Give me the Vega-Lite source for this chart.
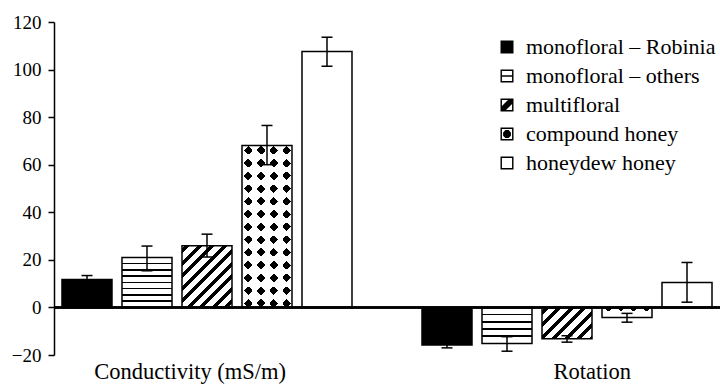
{
  "$schema": "https://vega.github.io/schema/vega-lite/v6.json",
  "width": 666,
  "height": 333,
  "autosize": {"type": "none"},
  "padding": {"left": 54, "top": 22, "right": 0, "bottom": 30},
  "background": "white",
  "config": {"view": {"stroke": null}, "font": "Liberation Serif"},
  "data": {
    "values": [
      {"group": "Conductivity (mS/m)", "type": "monofloral – Robinia", "value": 11.7, "lo": 10.0, "hi": 13.4},
      {"group": "Conductivity (mS/m)", "type": "monofloral – others", "value": 21.0, "lo": 15.4, "hi": 25.8},
      {"group": "Conductivity (mS/m)", "type": "multifloral", "value": 25.9, "lo": 21.2, "hi": 30.8},
      {"group": "Conductivity (mS/m)", "type": "compound honey", "value": 68.1, "lo": 60.0, "hi": 76.5},
      {"group": "Conductivity (mS/m)", "type": "honeydew honey", "value": 107.6, "lo": 101.4, "hi": 113.6},
      {"group": "Rotation", "type": "monofloral – Robinia", "value": -15.8, "lo": -17.0, "hi": -14.6},
      {"group": "Rotation", "type": "monofloral – others", "value": -15.2, "lo": -18.4, "hi": -12.3},
      {"group": "Rotation", "type": "multifloral", "value": -13.2, "lo": -14.6, "hi": -11.9},
      {"group": "Rotation", "type": "compound honey", "value": -4.2, "lo": -6.2, "hi": -2.5},
      {"group": "Rotation", "type": "honeydew honey", "value": 10.5, "lo": 2.2, "hi": 18.9}
    ]
  },
  "layer": [
    {
      "encoding": {
        "x": {"field": "group", "type": "nominal", "sort": ["Conductivity (mS/m)", "Rotation"],
          "scale": {"paddingInner": 0.16667, "paddingOuter": 0.00833},
          "axis": {"title": null, "domain": false, "ticks": false, "labelAngle": 0, "labelFontSize": 22.5, "labelColor": "black", "labelFont": "Liberation Serif", "labelPadding": 5, "labelLimit": 400,
            "labelExpr": "datum.value === 'Rotation' ? '\u200b\u00a0\u00a0\u00a0\u00a0\u00a0\u00a0\u00a0\u00a0\u00a0' + datum.label : datum.label + '\u00a0\u00a0\u00a0\u00a0\u00a0\u00a0\u200b'"}},
        "xOffset": {"field": "type", "type": "nominal", "sort": ["monofloral – Robinia", "monofloral – others", "multifloral", "compound honey", "honeydew honey"],
          "scale": {"paddingInner": 0.16667, "paddingOuter": 0.08333}},
        "y": {"field": "value", "type": "quantitative", "scale": {"domain": [-20, 120], "nice": false, "zero": false},
          "axis": {"title": null, "grid": false, "values": [-20, 0, 20, 40, 60, 80, 100, 120], "domainColor": "black", "domainWidth": 1.5, "tickColor": "black", "tickWidth": 1.5, "tickSize": 6, "labelFontSize": 19, "labelColor": "black", "labelFont": "Liberation Serif", "labelPadding": 7}}
      },
      "layer": [
        {
          "mark": {"type": "bar", "strokeWidth": 0},
          "encoding": {
            "fill": {
              "field": "type", "type": "nominal",
              "scale": {"domain": ["monofloral – Robinia", "monofloral – others", "multifloral", "compound honey", "honeydew honey"], "range": ["black", "black", "black", "black", "black"]},
              "legend": {"title": null, "orient": "none", "legendX": 442, "legendY": 14, "symbolSize": 169, "labelFontSize": 22, "labelColor": "black", "labelFont": "Liberation Serif", "labelLimit": 300, "labelOffset": 8, "rowPadding": 7, "padding": 0, "symbolStrokeWidth": 0, "symbolOpacity": 1},
              "condition": [
                {"test": "datum.type === 'compound honey'", "value": "black"},
                {"test": "datum.type === 'honeydew honey'", "value": "white"},
                {"test": "datum.type === 'monofloral – others' && datum.group === 'Rotation'", "value": {"gradient": "linear", "x1": 0, "y1": 0, "x2": 0, "y2": 1, "stops": [
                  {"offset": 0, "color": "white"},
                  {"offset": 0.178, "color": "white"}, {"offset": 0.178, "color": "black"}, {"offset": 0.22, "color": "black"}, {"offset": 0.22, "color": "white"},
                  {"offset": 0.377, "color": "white"}, {"offset": 0.377, "color": "black"}, {"offset": 0.419, "color": "black"}, {"offset": 0.419, "color": "white"},
                  {"offset": 0.576, "color": "white"}, {"offset": 0.576, "color": "black"}, {"offset": 0.618, "color": "black"}, {"offset": 0.618, "color": "white"},
                  {"offset": 0.775, "color": "white"}, {"offset": 0.775, "color": "black"}, {"offset": 0.817, "color": "black"}, {"offset": 0.817, "color": "white"},
                  {"offset": 1, "color": "white"}]}},
                {"test": "datum.type === 'monofloral – others'", "value": {"gradient": "linear", "x1": 0, "y1": 0, "x2": 0, "y2": 1, "stops": [
                  {"offset": 0, "color": "white"},
                  {"offset": 0.11, "color": "white"}, {"offset": 0.11, "color": "black"}, {"offset": 0.14, "color": "black"}, {"offset": 0.14, "color": "white"},
                  {"offset": 0.235, "color": "white"}, {"offset": 0.235, "color": "black"}, {"offset": 0.265, "color": "black"}, {"offset": 0.265, "color": "white"},
                  {"offset": 0.36, "color": "white"}, {"offset": 0.36, "color": "black"}, {"offset": 0.39, "color": "black"}, {"offset": 0.39, "color": "white"},
                  {"offset": 0.485, "color": "white"}, {"offset": 0.485, "color": "black"}, {"offset": 0.515, "color": "black"}, {"offset": 0.515, "color": "white"},
                  {"offset": 0.61, "color": "white"}, {"offset": 0.61, "color": "black"}, {"offset": 0.64, "color": "black"}, {"offset": 0.64, "color": "white"},
                  {"offset": 0.735, "color": "white"}, {"offset": 0.735, "color": "black"}, {"offset": 0.765, "color": "black"}, {"offset": 0.765, "color": "white"},
                  {"offset": 0.86, "color": "white"}, {"offset": 0.86, "color": "black"}, {"offset": 0.89, "color": "black"}, {"offset": 0.89, "color": "white"},
                  {"offset": 1, "color": "white"}]}},
                {"test": "datum.type === 'multifloral' && datum.group === 'Rotation'", "value": {"gradient": "linear", "x1": 0, "y1": 0, "x2": 1.1675, "y2": 0.7332, "stops": [
                  {"offset": 0, "color": "white"},
                  {"offset": 0.0369, "color": "white"}, {"offset": 0.0369, "color": "black"}, {"offset": 0.0983, "color": "black"}, {"offset": 0.0983, "color": "white"},
                  {"offset": 0.1904, "color": "white"}, {"offset": 0.1904, "color": "black"}, {"offset": 0.2518, "color": "black"}, {"offset": 0.2518, "color": "white"},
                  {"offset": 0.344, "color": "white"}, {"offset": 0.344, "color": "black"}, {"offset": 0.4054, "color": "black"}, {"offset": 0.4054, "color": "white"},
                  {"offset": 0.4975, "color": "white"}, {"offset": 0.4975, "color": "black"}, {"offset": 0.559, "color": "black"}, {"offset": 0.559, "color": "white"},
                  {"offset": 0.6511, "color": "white"}, {"offset": 0.6511, "color": "black"}, {"offset": 0.7125, "color": "black"}, {"offset": 0.7125, "color": "white"},
                  {"offset": 0.8047, "color": "white"}, {"offset": 0.8047, "color": "black"}, {"offset": 0.8661, "color": "black"}, {"offset": 0.8661, "color": "white"},
                  {"offset": 0.9582, "color": "white"}, {"offset": 0.9582, "color": "black"}, {"offset": 1, "color": "black"}]}},
                {"test": "datum.type === 'multifloral'", "value": {"gradient": "linear", "x1": 0, "y1": 0, "x2": 0.8865, "y2": 1.0921, "stops": [
                  {"offset": 0, "color": "white"},
                  {"offset": 0.0269, "color": "white"}, {"offset": 0.0269, "color": "black"}, {"offset": 0.0717, "color": "black"}, {"offset": 0.0717, "color": "white"},
                  {"offset": 0.1389, "color": "white"}, {"offset": 0.1389, "color": "black"}, {"offset": 0.1837, "color": "black"}, {"offset": 0.1837, "color": "white"},
                  {"offset": 0.2509, "color": "white"}, {"offset": 0.2509, "color": "black"}, {"offset": 0.2957, "color": "black"}, {"offset": 0.2957, "color": "white"},
                  {"offset": 0.3629, "color": "white"}, {"offset": 0.3629, "color": "black"}, {"offset": 0.4077, "color": "black"}, {"offset": 0.4077, "color": "white"},
                  {"offset": 0.4749, "color": "white"}, {"offset": 0.4749, "color": "black"}, {"offset": 0.5197, "color": "black"}, {"offset": 0.5197, "color": "white"},
                  {"offset": 0.5869, "color": "white"}, {"offset": 0.5869, "color": "black"}, {"offset": 0.6317, "color": "black"}, {"offset": 0.6317, "color": "white"},
                  {"offset": 0.6989, "color": "white"}, {"offset": 0.6989, "color": "black"}, {"offset": 0.7437, "color": "black"}, {"offset": 0.7437, "color": "white"},
                  {"offset": 0.8109, "color": "white"}, {"offset": 0.8109, "color": "black"}, {"offset": 0.8557, "color": "black"}, {"offset": 0.8557, "color": "white"},
                  {"offset": 0.9229, "color": "white"}, {"offset": 0.9229, "color": "black"}, {"offset": 0.9677, "color": "black"}, {"offset": 0.9677, "color": "white"},
                  {"offset": 1, "color": "white"}]}}
              ]
            }
          }
        },
        {
          "transform": [{"filter": "datum.type === 'compound honey'"}],
          "mark": {"type": "bar", "strokeWidth": 0},
          "encoding": {
            "fill": {"value": {"gradient": "linear", "x1": 0, "y1": 0, "x2": 1, "y2": 0, "stops": [
              {"offset": 0, "color": "white"},
              {"offset": 0.046, "color": "white"}, {"offset": 0.046, "color": "rgba(255,255,255,0)"}, {"offset": 0.206, "color": "rgba(255,255,255,0)"}, {"offset": 0.206, "color": "white"},
              {"offset": 0.301, "color": "white"}, {"offset": 0.301, "color": "rgba(255,255,255,0)"}, {"offset": 0.461, "color": "rgba(255,255,255,0)"}, {"offset": 0.461, "color": "white"},
              {"offset": 0.556, "color": "white"}, {"offset": 0.556, "color": "rgba(255,255,255,0)"}, {"offset": 0.716, "color": "rgba(255,255,255,0)"}, {"offset": 0.716, "color": "white"},
              {"offset": 0.811, "color": "white"}, {"offset": 0.811, "color": "rgba(255,255,255,0)"}, {"offset": 0.971, "color": "rgba(255,255,255,0)"}, {"offset": 0.971, "color": "white"},
              {"offset": 1, "color": "white"}]}}
          }
        },
        {
          "transform": [{"filter": "datum.type === 'compound honey'"}],
          "mark": {"type": "bar", "strokeWidth": 0},
          "encoding": {
            "fill": {
              "condition": {"test": "datum.group === 'Rotation'", "value": {"gradient": "linear", "x1": 0, "y1": 0, "x2": 0, "y2": 1, "stops": [
                {"offset": 0, "color": "rgba(255,255,255,0)"}, {"offset": 0.4, "color": "rgba(255,255,255,0)"}, {"offset": 0.4, "color": "white"}, {"offset": 1, "color": "white"}]}},
              "value": {"gradient": "linear", "x1": 0, "y1": 0, "x2": 0, "y2": 1, "stops": [
                {"offset": 0, "color": "white"},
                {"offset": 0.0062, "color": "white"}, {"offset": 0.0062, "color": "rgba(255,255,255,0)"}, {"offset": 0.0556, "color": "rgba(255,255,255,0)"}, {"offset": 0.0556, "color": "white"},
                {"offset": 0.0849, "color": "white"}, {"offset": 0.0849, "color": "rgba(255,255,255,0)"}, {"offset": 0.1343, "color": "rgba(255,255,255,0)"}, {"offset": 0.1343, "color": "white"},
                {"offset": 0.1636, "color": "white"}, {"offset": 0.1636, "color": "rgba(255,255,255,0)"}, {"offset": 0.213, "color": "rgba(255,255,255,0)"}, {"offset": 0.213, "color": "white"},
                {"offset": 0.2423, "color": "white"}, {"offset": 0.2423, "color": "rgba(255,255,255,0)"}, {"offset": 0.2917, "color": "rgba(255,255,255,0)"}, {"offset": 0.2917, "color": "white"},
                {"offset": 0.321, "color": "white"}, {"offset": 0.321, "color": "rgba(255,255,255,0)"}, {"offset": 0.3704, "color": "rgba(255,255,255,0)"}, {"offset": 0.3704, "color": "white"},
                {"offset": 0.3997, "color": "white"}, {"offset": 0.3997, "color": "rgba(255,255,255,0)"}, {"offset": 0.4491, "color": "rgba(255,255,255,0)"}, {"offset": 0.4491, "color": "white"},
                {"offset": 0.4784, "color": "white"}, {"offset": 0.4784, "color": "rgba(255,255,255,0)"}, {"offset": 0.5278, "color": "rgba(255,255,255,0)"}, {"offset": 0.5278, "color": "white"},
                {"offset": 0.5571, "color": "white"}, {"offset": 0.5571, "color": "rgba(255,255,255,0)"}, {"offset": 0.6065, "color": "rgba(255,255,255,0)"}, {"offset": 0.6065, "color": "white"},
                {"offset": 0.6358, "color": "white"}, {"offset": 0.6358, "color": "rgba(255,255,255,0)"}, {"offset": 0.6852, "color": "rgba(255,255,255,0)"}, {"offset": 0.6852, "color": "white"},
                {"offset": 0.7145, "color": "white"}, {"offset": 0.7145, "color": "rgba(255,255,255,0)"}, {"offset": 0.7639, "color": "rgba(255,255,255,0)"}, {"offset": 0.7639, "color": "white"},
                {"offset": 0.7932, "color": "white"}, {"offset": 0.7932, "color": "rgba(255,255,255,0)"}, {"offset": 0.8426, "color": "rgba(255,255,255,0)"}, {"offset": 0.8426, "color": "white"},
                {"offset": 0.8719, "color": "white"}, {"offset": 0.8719, "color": "rgba(255,255,255,0)"}, {"offset": 0.9213, "color": "rgba(255,255,255,0)"}, {"offset": 0.9213, "color": "white"},
                {"offset": 0.9506, "color": "white"}, {"offset": 0.9506, "color": "rgba(255,255,255,0)"}, {"offset": 1, "color": "rgba(255,255,255,0)"}]}
            }
          }
        },
        {
          "transform": [{"filter": "datum.type === 'compound honey'"}],
          "mark": {"type": "bar", "strokeWidth": 0},
          "encoding": {
            "fill": {
              "condition": {"test": "datum.group === 'Rotation'", "value": {"gradient": "linear", "x1": 0, "y1": 0, "x2": 1.1538, "y2": 0.2308, "stops": [
                {"offset": 0, "color": "white"},
                {"offset": 0.03, "color": "white"}, {"offset": 0.03, "color": "rgba(255,255,255,0)"}, {"offset": 0.18, "color": "rgba(255,255,255,0)"}, {"offset": 0.18, "color": "white"},
                {"offset": 0.2425, "color": "white"}, {"offset": 0.2425, "color": "rgba(255,255,255,0)"}, {"offset": 0.3925, "color": "rgba(255,255,255,0)"}, {"offset": 0.3925, "color": "white"},
                {"offset": 0.455, "color": "white"}, {"offset": 0.455, "color": "rgba(255,255,255,0)"}, {"offset": 0.605, "color": "rgba(255,255,255,0)"}, {"offset": 0.605, "color": "white"},
                {"offset": 0.6675, "color": "white"}, {"offset": 0.6675, "color": "rgba(255,255,255,0)"}, {"offset": 0.8175, "color": "rgba(255,255,255,0)"}, {"offset": 0.8175, "color": "white"},
                {"offset": 0.88, "color": "white"}, {"offset": 0.88, "color": "rgba(255,255,255,0)"}, {"offset": 1, "color": "rgba(255,255,255,0)"}]}},
              "value": {"gradient": "linear", "x1": 0, "y1": 0, "x2": 0.3688, "y2": 1.1948, "stops": [
                {"offset": 0, "color": "rgba(255,255,255,0)"}, {"offset": 0.0144, "color": "rgba(255,255,255,0)"}, {"offset": 0.0144, "color": "white"},
                {"offset": 0.0321, "color": "white"}, {"offset": 0.0321, "color": "rgba(255,255,255,0)"}, {"offset": 0.0745, "color": "rgba(255,255,255,0)"}, {"offset": 0.0745, "color": "white"},
                {"offset": 0.0922, "color": "white"}, {"offset": 0.0922, "color": "rgba(255,255,255,0)"}, {"offset": 0.1347, "color": "rgba(255,255,255,0)"}, {"offset": 0.1347, "color": "white"},
                {"offset": 0.1524, "color": "white"}, {"offset": 0.1524, "color": "rgba(255,255,255,0)"}, {"offset": 0.1948, "color": "rgba(255,255,255,0)"}, {"offset": 0.1948, "color": "white"},
                {"offset": 0.2125, "color": "white"}, {"offset": 0.2125, "color": "rgba(255,255,255,0)"}, {"offset": 0.255, "color": "rgba(255,255,255,0)"}, {"offset": 0.255, "color": "white"},
                {"offset": 0.2726, "color": "white"}, {"offset": 0.2726, "color": "rgba(255,255,255,0)"}, {"offset": 0.3151, "color": "rgba(255,255,255,0)"}, {"offset": 0.3151, "color": "white"},
                {"offset": 0.3328, "color": "white"}, {"offset": 0.3328, "color": "rgba(255,255,255,0)"}, {"offset": 0.3752, "color": "rgba(255,255,255,0)"}, {"offset": 0.3752, "color": "white"},
                {"offset": 0.3929, "color": "white"}, {"offset": 0.3929, "color": "rgba(255,255,255,0)"}, {"offset": 0.4354, "color": "rgba(255,255,255,0)"}, {"offset": 0.4354, "color": "white"},
                {"offset": 0.4531, "color": "white"}, {"offset": 0.4531, "color": "rgba(255,255,255,0)"}, {"offset": 0.4955, "color": "rgba(255,255,255,0)"}, {"offset": 0.4955, "color": "white"},
                {"offset": 0.5132, "color": "white"}, {"offset": 0.5132, "color": "rgba(255,255,255,0)"}, {"offset": 0.5557, "color": "rgba(255,255,255,0)"}, {"offset": 0.5557, "color": "white"},
                {"offset": 0.5733, "color": "white"}, {"offset": 0.5733, "color": "rgba(255,255,255,0)"}, {"offset": 0.6158, "color": "rgba(255,255,255,0)"}, {"offset": 0.6158, "color": "white"},
                {"offset": 0.6335, "color": "white"}, {"offset": 0.6335, "color": "rgba(255,255,255,0)"}, {"offset": 0.6759, "color": "rgba(255,255,255,0)"}, {"offset": 0.6759, "color": "white"},
                {"offset": 0.6936, "color": "white"}, {"offset": 0.6936, "color": "rgba(255,255,255,0)"}, {"offset": 0.7361, "color": "rgba(255,255,255,0)"}, {"offset": 0.7361, "color": "white"},
                {"offset": 0.7538, "color": "white"}, {"offset": 0.7538, "color": "rgba(255,255,255,0)"}, {"offset": 0.7962, "color": "rgba(255,255,255,0)"}, {"offset": 0.7962, "color": "white"},
                {"offset": 0.8139, "color": "white"}, {"offset": 0.8139, "color": "rgba(255,255,255,0)"}, {"offset": 0.8564, "color": "rgba(255,255,255,0)"}, {"offset": 0.8564, "color": "white"},
                {"offset": 0.8741, "color": "white"}, {"offset": 0.8741, "color": "rgba(255,255,255,0)"}, {"offset": 0.9165, "color": "rgba(255,255,255,0)"}, {"offset": 0.9165, "color": "white"},
                {"offset": 0.9342, "color": "white"}, {"offset": 0.9342, "color": "rgba(255,255,255,0)"}, {"offset": 0.9767, "color": "rgba(255,255,255,0)"}, {"offset": 0.9767, "color": "white"},
                {"offset": 0.9943, "color": "white"}, {"offset": 0.9943, "color": "rgba(255,255,255,0)"}, {"offset": 1, "color": "rgba(255,255,255,0)"}]}
            }
          }
        },
        {
          "transform": [{"filter": "datum.type === 'compound honey'"}],
          "mark": {"type": "bar", "strokeWidth": 0},
          "encoding": {
            "fill": {
              "condition": {"test": "datum.group === 'Rotation'", "value": {"gradient": "linear", "x1": 0, "y1": 1, "x2": 1.1538, "y2": 0.7692, "stops": [
                {"offset": 0, "color": "rgba(255,255,255,0)"}, {"offset": 0.1342, "color": "rgba(255,255,255,0)"}, {"offset": 0.1342, "color": "white"},
                {"offset": 0.1967, "color": "white"}, {"offset": 0.1967, "color": "rgba(255,255,255,0)"}, {"offset": 0.3467, "color": "rgba(255,255,255,0)"}, {"offset": 0.3467, "color": "white"},
                {"offset": 0.4092, "color": "white"}, {"offset": 0.4092, "color": "rgba(255,255,255,0)"}, {"offset": 0.5592, "color": "rgba(255,255,255,0)"}, {"offset": 0.5592, "color": "white"},
                {"offset": 0.6217, "color": "white"}, {"offset": 0.6217, "color": "rgba(255,255,255,0)"}, {"offset": 0.7717, "color": "rgba(255,255,255,0)"}, {"offset": 0.7717, "color": "white"},
                {"offset": 0.8342, "color": "white"}, {"offset": 0.8342, "color": "rgba(255,255,255,0)"}, {"offset": 0.9842, "color": "rgba(255,255,255,0)"}, {"offset": 0.9842, "color": "white"},
                {"offset": 1, "color": "white"}]}},
              "value": {"gradient": "linear", "x1": 0, "y1": 1, "x2": 0.3688, "y2": -0.1948, "stops": [
                {"offset": 0, "color": "rgba(255,255,255,0)"}, {"offset": 0.0097, "color": "rgba(255,255,255,0)"}, {"offset": 0.0097, "color": "white"},
                {"offset": 0.0274, "color": "white"}, {"offset": 0.0274, "color": "rgba(255,255,255,0)"}, {"offset": 0.0698, "color": "rgba(255,255,255,0)"}, {"offset": 0.0698, "color": "white"},
                {"offset": 0.0875, "color": "white"}, {"offset": 0.0875, "color": "rgba(255,255,255,0)"}, {"offset": 0.13, "color": "rgba(255,255,255,0)"}, {"offset": 0.13, "color": "white"},
                {"offset": 0.1476, "color": "white"}, {"offset": 0.1476, "color": "rgba(255,255,255,0)"}, {"offset": 0.1901, "color": "rgba(255,255,255,0)"}, {"offset": 0.1901, "color": "white"},
                {"offset": 0.2078, "color": "white"}, {"offset": 0.2078, "color": "rgba(255,255,255,0)"}, {"offset": 0.2502, "color": "rgba(255,255,255,0)"}, {"offset": 0.2502, "color": "white"},
                {"offset": 0.2679, "color": "white"}, {"offset": 0.2679, "color": "rgba(255,255,255,0)"}, {"offset": 0.3104, "color": "rgba(255,255,255,0)"}, {"offset": 0.3104, "color": "white"},
                {"offset": 0.3281, "color": "white"}, {"offset": 0.3281, "color": "rgba(255,255,255,0)"}, {"offset": 0.3705, "color": "rgba(255,255,255,0)"}, {"offset": 0.3705, "color": "white"},
                {"offset": 0.3882, "color": "white"}, {"offset": 0.3882, "color": "rgba(255,255,255,0)"}, {"offset": 0.4307, "color": "rgba(255,255,255,0)"}, {"offset": 0.4307, "color": "white"},
                {"offset": 0.4484, "color": "white"}, {"offset": 0.4484, "color": "rgba(255,255,255,0)"}, {"offset": 0.4908, "color": "rgba(255,255,255,0)"}, {"offset": 0.4908, "color": "white"},
                {"offset": 0.5085, "color": "white"}, {"offset": 0.5085, "color": "rgba(255,255,255,0)"}, {"offset": 0.5509, "color": "rgba(255,255,255,0)"}, {"offset": 0.5509, "color": "white"},
                {"offset": 0.5686, "color": "white"}, {"offset": 0.5686, "color": "rgba(255,255,255,0)"}, {"offset": 0.6111, "color": "rgba(255,255,255,0)"}, {"offset": 0.6111, "color": "white"},
                {"offset": 0.6288, "color": "white"}, {"offset": 0.6288, "color": "rgba(255,255,255,0)"}, {"offset": 0.6712, "color": "rgba(255,255,255,0)"}, {"offset": 0.6712, "color": "white"},
                {"offset": 0.6889, "color": "white"}, {"offset": 0.6889, "color": "rgba(255,255,255,0)"}, {"offset": 0.7314, "color": "rgba(255,255,255,0)"}, {"offset": 0.7314, "color": "white"},
                {"offset": 0.7491, "color": "white"}, {"offset": 0.7491, "color": "rgba(255,255,255,0)"}, {"offset": 0.7915, "color": "rgba(255,255,255,0)"}, {"offset": 0.7915, "color": "white"},
                {"offset": 0.8092, "color": "white"}, {"offset": 0.8092, "color": "rgba(255,255,255,0)"}, {"offset": 0.8517, "color": "rgba(255,255,255,0)"}, {"offset": 0.8517, "color": "white"},
                {"offset": 0.8693, "color": "white"}, {"offset": 0.8693, "color": "rgba(255,255,255,0)"}, {"offset": 0.9118, "color": "rgba(255,255,255,0)"}, {"offset": 0.9118, "color": "white"},
                {"offset": 0.9295, "color": "white"}, {"offset": 0.9295, "color": "rgba(255,255,255,0)"}, {"offset": 0.9719, "color": "rgba(255,255,255,0)"}, {"offset": 0.9719, "color": "white"},
                {"offset": 0.9896, "color": "white"}, {"offset": 0.9896, "color": "rgba(255,255,255,0)"}, {"offset": 1, "color": "rgba(255,255,255,0)"}]}
            }
          }
        },
        {
          "mark": {"type": "bar", "fill": "transparent", "stroke": "black", "strokeWidth": 1.5}
        },
        {
          "mark": {"type": "point", "filled": true, "opacity": 0, "strokeWidth": 0},
          "encoding": {
            "fill": {"field": "type", "type": "nominal",
              "legend": {"title": null, "orient": "none", "legendX": 442, "legendY": 14, "symbolSize": 169, "labelFontSize": 22, "labelColor": "black", "labelFont": "Liberation Serif", "labelLimit": 300, "labelOffset": 8, "rowPadding": 7, "padding": 0, "symbolStrokeWidth": 0, "symbolOpacity": 1}},
            "shape": {"field": "type", "type": "nominal",
              "scale": {"domain": ["monofloral – Robinia", "monofloral – others", "multifloral", "compound honey", "honeydew honey"],
                "range": [
                  "square",
                  "M-1,-1H1V1H-1Z M-0.78,-0.78V0.78H0.78V-0.78Z M-0.78,-0.11H0.78V0.11H-0.78Z",
                  "M-1,-1H1V1H-1Z M-0.78,-0.78V0.15L0.15,-0.78Z M0.78,0.78V-0.15L-0.15,0.78Z",
                  "M-1,-1H1V1H-1Z M-0.78,-0.78V0.78H0.78V-0.78Z M-0.25,-0.6H0.25L0.6,-0.25V0.25L0.25,0.6H-0.25L-0.6,0.25V-0.25Z",
                  "M-1,-1H1V1H-1Z M-0.78,-0.78V0.78H0.78V-0.78Z"
                ]},
              "legend": {"title": null, "orient": "none", "legendX": 442, "legendY": 14, "symbolSize": 169, "labelFontSize": 22, "labelColor": "black", "labelFont": "Liberation Serif", "labelLimit": 300, "labelOffset": 8, "rowPadding": 7, "padding": 0, "symbolStrokeWidth": 0, "symbolOpacity": 1}}
          }
        }
      ]
    },
    {
      "mark": {"type": "rule", "stroke": "black", "strokeWidth": 1.5},
      "encoding": {"y": {"datum": 0, "type": "quantitative"}}
    },
    {
      "encoding": {
        "x": {"field": "group", "type": "nominal", "sort": ["Conductivity (mS/m)", "Rotation"]},
        "xOffset": {"field": "type", "type": "nominal", "sort": ["monofloral – Robinia", "monofloral – others", "multifloral", "compound honey", "honeydew honey"]}
      },
      "layer": [
        {
          "mark": {"type": "rule", "stroke": "black", "strokeWidth": 1.5},
          "encoding": {"y": {"field": "lo", "type": "quantitative"}, "y2": {"field": "hi"}}
        },
        {
          "mark": {"type": "tick", "color": "black", "thickness": 1.5, "size": 11, "opacity": 1},
          "encoding": {"y": {"field": "lo", "type": "quantitative"}}
        },
        {
          "mark": {"type": "tick", "color": "black", "thickness": 1.5, "size": 11, "opacity": 1},
          "encoding": {"y": {"field": "hi", "type": "quantitative"}}
        }
      ]
    }
  ]
}
